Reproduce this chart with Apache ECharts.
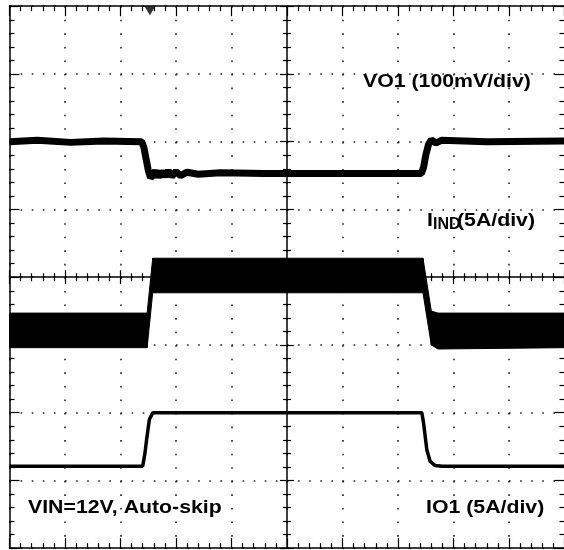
<!DOCTYPE html>
<html>
<head>
<meta charset="utf-8">
<script src="https://cdn.jsdelivr.net/npm/echarts@6.0.0/dist/echarts.min.js"></script>
<style>
    html, body { margin: 0; padding: 0; background: #fff; }
    #scope { width: 564px; height: 550px; }
</style>
</head>
<body>
<div id="scope"></div>
<script>
// screen is 10 x 8 divisions, values are in divisions (y from bottom)
const xDivs = 10;
const yDivs = 8;

// VO1 trace [time div, level div]
const vo1 = [
    [0, 6.0], [0.5, 6.02], [1.1, 5.99], [1.7, 6.01], [2.38, 6.0],
    [2.42, 5.92], [2.46, 5.75], [2.5, 5.58], [2.54, 5.47], [2.58, 5.5],
    [2.63, 5.57], [2.68, 5.48], [2.74, 5.56], [2.8, 5.49], [2.86, 5.57],
    [2.92, 5.49], [3.0, 5.56], [3.08, 5.5], [3.2, 5.55], [3.4, 5.52],
    [3.8, 5.54], [4.6, 5.53], [5.6, 5.53], [6.6, 5.53], [7.42, 5.53],
    [7.46, 5.62], [7.5, 5.8], [7.55, 5.96], [7.6, 6.03], [7.68, 5.98],
    [7.78, 6.02], [8.6, 6.0], [10, 6.01]
];

// IIND ripple band: upper and lower envelope
const iindTime = [0, 2.48, 2.58, 7.45, 7.6, 7.72, 10];
const iindUpper = [3.47, 3.47, 4.28, 4.28, 3.5, 3.47, 3.47];
const iindLower = [2.96, 2.96, 3.77, 3.77, 3.0, 2.94, 2.96];

// IO1 trace
const io1 = [
    [0, 1.21], [2.4, 1.21], [2.44, 1.4], [2.47, 1.6], [2.52, 1.9],
    [2.58, 2.0], [7.43, 2.0], [7.46, 1.85], [7.52, 1.45], [7.58, 1.28],
    [7.67, 1.22], [7.8, 1.21], [10, 1.21]
];

// trigger position marker on top edge
const triggerPos = [[2.53, 8]];

const labels = [
    { text: "VO1 (100mV/div)", x: 363, y: 82 },
    { text: "VIN=12V, Auto-skip", x: 28, y: 508 },
    { text: "IO1 (5A/div)", x: 426, y: 508 },
    { text: "I", x: 427, y: 221 },
    { text: "(5A/div)", x: 457, y: 221 }
];

let chart = echarts.init(document.getElementById("scope"));

const font = "bold 19px 'Liberation Sans', Arial, sans-serif";
const black = "#000";

function scaleAxis(dim, extra) {
    let base = {
        type: "value",
        min: 0,
        max: dim === "x" ? xDivs : yDivs,
        interval: 1,
        axisLabel: { show: false },
        splitLine: { show: false },
        axisLine: { show: true, onZero: false, lineStyle: { color: black, width: 1.5 } },
        axisTick: { show: true, inside: true, length: 10, lineStyle: { color: black, width: 1.2 } },
        minorTick: { show: true, splitNumber: 5, length: 5, lineStyle: { color: black, width: 1.2 } }
    };
    return Object.assign(base, extra);
}

const gridH = 542;
const gridW = 555;

// rows: time, upper, lower
let bandRows = iindTime.map(function (t, i) {
    return [t, iindUpper[i], iindLower[i]];
});

function renderBand(params, api) {
    let i = params.dataIndex;
    if (i >= iindTime.length - 1) return;
    let pts = [
        api.coord([iindTime[i], iindUpper[i]]),
        api.coord([iindTime[i + 1], iindUpper[i + 1]]),
        api.coord([iindTime[i + 1], iindLower[i + 1]]),
        api.coord([iindTime[i], iindLower[i]])
    ];
    return {
        type: "polygon",
        shape: { points: pts },
        style: { fill: black, stroke: black, lineWidth: 1 }
    };
}

chart.setOption({
    animation: false,
    backgroundColor: "#fff",
    grid: { left: 9.5, top: 6.2, width: gridW, height: gridH, outerBoundsMode: "none" },
    xAxis: [
        scaleAxis("x", {
            position: "bottom",
            splitLine: { show: true, lineStyle: { color: "#222", width: 1.6, type: [1.6, 11.96] } }
        }),
        scaleAxis("x", { position: "top" }),
        // centre crosshair, ticks up and down
        scaleAxis("x", {
            position: "bottom", offset: -gridH / 2,
            axisTick: { show: true, inside: true, length: 7, lineStyle: { color: black, width: 1.2 } },
            minorTick: { show: true, splitNumber: 5, length: 4, lineStyle: { color: black, width: 1.2 } }
        }),
        scaleAxis("x", {
            position: "bottom", offset: -gridH / 2,
            axisLine: { show: false, onZero: false },
            axisTick: { show: true, inside: false, length: 7, lineStyle: { color: black, width: 1.2 } },
            minorTick: { show: true, splitNumber: 5, length: 4, lineStyle: { color: black, width: 1.2 } }
        })
    ],
    yAxis: [
        scaleAxis("y", {
            position: "left",
            splitLine: { show: true, lineStyle: { color: "#222", width: 1.6, type: [1.6, 9.5] } }
        }),
        scaleAxis("y", { position: "right" }),
        scaleAxis("y", {
            position: "left", offset: -gridW / 2,
            axisTick: { show: true, inside: true, length: 7, lineStyle: { color: black, width: 1.2 } },
            minorTick: { show: true, splitNumber: 5, length: 4, lineStyle: { color: black, width: 1.2 } }
        }),
        scaleAxis("y", {
            position: "left", offset: -gridW / 2,
            axisLine: { show: false, onZero: false },
            axisTick: { show: true, inside: false, length: 7, lineStyle: { color: black, width: 1.2 } },
            minorTick: { show: true, splitNumber: 5, length: 4, lineStyle: { color: black, width: 1.2 } }
        })
    ],
    series: [
        {
            name: "VO1",
            type: "line",
            data: vo1,
            symbol: "none",
            lineStyle: { color: black, width: 7 },
            z: 5
        },
        {
            name: "IIND",
            type: "custom",
            data: bandRows,
            encode: { x: 0, y: [1, 2] },
            renderItem: renderBand,
            clip: true,
            z: 5
        },
        {
            name: "IO1",
            type: "line",
            data: io1,
            symbol: "none",
            lineStyle: { color: black, width: 3.5 },
            z: 5
        },
        {
            name: "trigger",
            type: "scatter",
            data: triggerPos,
            symbol: "triangle",
            symbolRotate: 180,
            symbolSize: [11, 9],
            symbolOffset: [0, 4.5],
            itemStyle: { color: black },
            clip: false,
            z: 6
        }
    ],
    graphic: labels.map(function (l) {
        return {
            type: "text",
            z: 10,
            x: l.x,
            y: l.y,
            scaleX: 1.12,
            style: { text: l.text, x: 0, y: 0, font: font, fill: black, verticalAlign: "middle" }
        };
    }).concat([
        // subscript of I_IND
        { type: "text", z: 10, x: 433, y: 225, style: { text: "IND", x: 0, y: 0, font: "bold 16px 'Liberation Sans', Arial, sans-serif", fill: black, verticalAlign: "middle" } }
    ])
});
</script>
</body>
</html>
